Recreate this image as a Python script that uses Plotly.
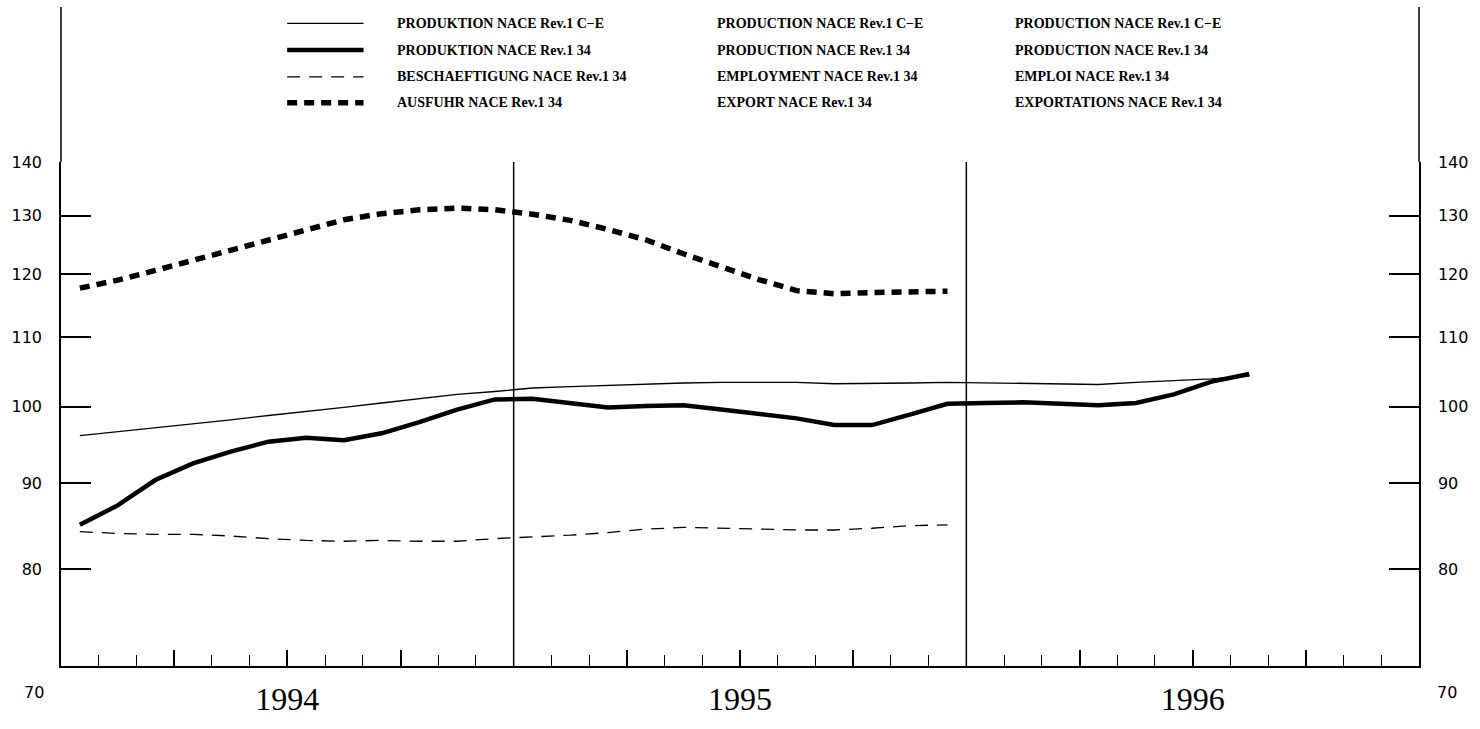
import math
import plotly.graph_objects as go

# ---------------- data (monthly indices, Jan 1994 = month 0) ----------------
years = ["1994", "1995", "1996"]
months = [f"{y}-{m:02d}" for y in years for m in range(1, 13)]

prod_ce = [96.1, 96.6, 97.2, 97.7, 98.2, 98.8, 99.3, 99.9, 100.5, 101.1, 101.7, 102.1,
           102.6, 102.8, 103.0, 103.2, 103.3, 103.4, 103.4, 103.4, 103.2, 103.2, 103.3, 103.4,
           103.3, 103.2, 103.1, 103.1, 103.4, 103.6, 103.9, 104.3]
prod_34 = [85.0, 87.3, 90.4, 92.5, 94.0, 95.3, 95.8, 95.5, 96.4, 97.9, 99.6, 101.0,
           101.1, 100.5, 99.9, 100.1, 100.2, 99.6, 99.0, 98.4, 97.5, 97.5, 98.9, 100.4,
           100.5, 100.6, 100.4, 100.2, 100.5, 101.7, 103.5, 104.6]
employment = [84.2, 84.0, 83.9, 83.9, 83.7, 83.4, 83.2, 83.1, 83.2, 83.1, 83.1, 83.4,
              83.6, 83.8, 84.1, 84.5, 84.7, 84.6, 84.5, 84.4, 84.4, 84.6, 84.9, 85.0]
export = [117.7, 119.0, 120.6, 122.3, 124.2, 125.9, 127.7, 129.3, 130.4, 131.1, 131.4, 131.1,
          130.3, 129.2, 127.6, 125.8, 123.4, 121.2, 119.1, 117.3, 116.8, 117.0, 117.2, 117.2]

y_ticks = [70, 80, 90, 100, 110, 120, 130, 140]
y_ticktext = ["", "80", "90", "100", "110", "120", "130", "140"]
base_value = 100

de_labels = ["PRODUKTION NACE Rev.1 C\u2212E", "PRODUKTION NACE Rev.1 34",
             "BESCHAEFTIGUNG NACE Rev.1 34", "AUSFUHR NACE Rev.1 34"]
en_labels = ["PRODUCTION NACE Rev.1 C\u2212E", "PRODUCTION NACE Rev.1 34",
             "EMPLOYMENT NACE Rev.1 34", "EXPORT NACE Rev.1 34"]
fr_labels = ["PRODUCTION NACE Rev.1 C\u2212E", "PRODUCTION NACE Rev.1 34",
             "EMPLOI NACE Rev.1 34", "EXPORTATIONS NACE Rev.1 34"]

# ---------------- styles ----------------
W, H = 1480, 729
ML, MR, MT, MB = 55, 56, 162, 40
PW, PH = W - ML - MR, H - MT - MB

styles = [
    dict(color="black", width=1.4),
    dict(color="black", width=4.5),
    dict(color="black", width=1.3, dash="13px,9px"),
    dict(color="black", width=5.5, dash="10px,7px"),
]
series = [prod_ce, prod_34, employment, export]


def px2x(px):
    return (px - ML) / PW


def px2y(py):
    return (H - MB - py) / PH


fig = go.Figure()
for vals, st, name in zip(series, styles, de_labels):
    xs = [i + 0.5 for i in range(len(vals))]
    fig.add_trace(go.Scatter(x=xs, y=vals, mode="lines", line=st, name=name,
                             showlegend=False, hoverinfo="x+y"))
# invisible trace so that the right-hand axis is drawn
fig.add_trace(go.Scatter(x=[0.5], y=[prod_ce[0]], yaxis="y2", mode="markers",
                         marker=dict(opacity=0), showlegend=False, hoverinfo="skip"))

n_months = len(months)
quarter_ticks = [q for q in range(3, n_months, 3) if q % 12 != 0]
tick_text = []
for q in quarter_ticks:
    tick_text.append(years[q // 12] if q % 12 == 6 else "")
minor_ticks = [m for m in range(1, n_months) if m % 3 != 0]

yaxis_common = dict(
    type="log", range=[math.log10(70), math.log10(140)],
    tickmode="array", tickvals=y_ticks, ticktext=y_ticktext,
    ticks="inside", ticklen=30, tickwidth=1.5, tickcolor="black",
    showline=True, linecolor="black", linewidth=1.5,
    showgrid=False, zeroline=False,
    tickfont=dict(family="DejaVu Sans", size=16, color="black"),
    ticklabelstandoff=14,
)

fig.update_layout(
    width=W, height=H,
    margin=dict(l=ML, r=MR, t=MT, b=MB, pad=0),
    paper_bgcolor="white", plot_bgcolor="white",
    xaxis=dict(
        range=[0, n_months], tickmode="array", tickvals=quarter_ticks, ticktext=tick_text,
        ticks="inside", ticklen=16, tickwidth=1.5, tickcolor="black",
        minor=dict(tickmode="array", tickvals=minor_ticks, ticks="inside", ticklen=11,
                   tickwidth=1.2, tickcolor="black", showgrid=False),
        showline=True, linecolor="black", linewidth=1.5,
        showgrid=False, zeroline=False,
        tickfont=dict(family="Liberation Serif", size=32, color="black"),
        ticklabelstandoff=4,
    ),
    yaxis=dict(side="left", **yaxis_common),
    yaxis2=dict(side="right", overlaying="y", **yaxis_common),
    showlegend=False,
)

shapes = []
# year separators
for yi in range(1, len(years)):
    shapes.append(dict(type="line", xref="x", yref="paper", x0=12 * yi, x1=12 * yi,
                       y0=0, y1=1, line=dict(color="black", width=1.5)))
# base 100 dotted line
shapes.append(dict(type="line", xref="paper", yref="y", x0=0, x1=1,
                   y0=math.log10(base_value), y1=math.log10(base_value),
                   line=dict(color="black", width=1.5, dash="2px,15px")))
# frame extends to top of page
for xp in (0, 1):
    shapes.append(dict(type="line", xref="paper", yref="paper", x0=xp, x1=xp,
                       y0=1, y1=px2y(0), line=dict(color="black", width=1.5)))

# legend samples and texts
row_y = [17, 45, 73, 100]
annotations = []
for st, py, de, en, fr in zip(styles, row_y, de_labels, en_labels, fr_labels):
    shapes.append(dict(type="line", xref="paper", yref="paper",
                       x0=px2x(283), x1=px2x(360), y0=px2y(py), y1=px2y(py), line=st))
    for txt, px in ((de, 392), (en, 714), (fr, 1015)):
        annotations.append(dict(xref="paper", yref="paper", x=px2x(px), y=px2y(py),
                                text="<b>" + txt + "</b>", showarrow=False,
                                xanchor="left", yanchor="middle",
                                font=dict(family="Liberation Serif", size=14, color="black")))

# bottom "70" labels (placed below the axis corner)
for px, anchor in ((40, "right"), (1440, "left")):
    annotations.append(dict(xref="paper", yref="paper", x=px2x(px), y=px2y(717),
                            text=str(y_ticks[0]), showarrow=False, xanchor=anchor,
                            yanchor="middle",
                            font=dict(family="DejaVu Sans", size=16, color="black")))

fig.update_layout(shapes=shapes, annotations=annotations)
fig.write_html(
    "out.html",
    config={"displayModeBar": False},
    post_script="document.body.style.margin='0';document.body.style.overflow='hidden';",
)
